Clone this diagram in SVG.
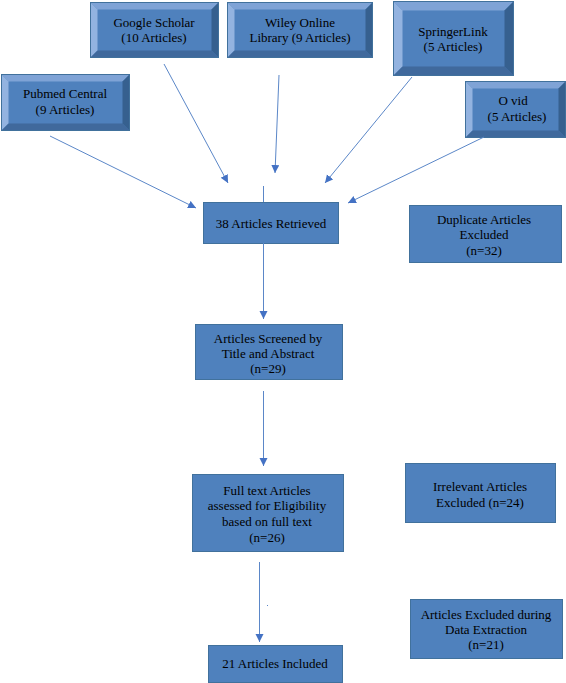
<svg xmlns="http://www.w3.org/2000/svg" width="566" height="683" viewBox="0 0 566 683">
<style>
.face{fill:#4F81BD;stroke:#41719C;stroke-width:1}
.bt{fill:#7FA3D6}.bl{fill:#93B3E0}.bb{fill:#40699C}.br{fill:#36608F}
.flat{fill:#4F81BD;stroke:#41719C;stroke-width:1}
.con line{stroke:#5B87C8;stroke-width:1;fill:none}
</style>
<defs>
<marker id="ah" markerUnits="userSpaceOnUse" markerWidth="10" markerHeight="10" refX="8" refY="4" orient="auto">
<path d="M0,0 L8,4 L0,8 Z" fill="#4472C4"/>
</marker>
</defs>
<rect width="566" height="683" fill="#fff"/>
<g font-family="Liberation Serif, Times New Roman, serif" font-size="13" text-anchor="middle" fill="#000">

<g id="google">
<rect class="face" x="90.5" y="2.5" width="128" height="55"/>
<polygon class="bt" points="90.5,2.5 218.5,2.5 211.5,9.5 97.5,9.5"/>
<polygon class="bl" points="90.5,2.5 97.5,9.5 97.5,50.5 90.5,57.5"/>
<polygon class="bb" points="90.5,57.5 97.5,50.5 211.5,50.5 218.5,57.5"/>
<polygon class="br" points="218.5,2.5 218.5,57.5 211.5,50.5 211.5,9.5"/>
<rect x="90.5" y="2.5" width="128" height="55" fill="none" stroke="#41719C"/>
<text x="154" y="27">Google Scholar</text>
<text x="154" y="42">(10 Articles)</text>
</g>

<g id="wiley">
<rect class="face" x="227.5" y="2.5" width="145" height="55"/>
<polygon class="bt" points="227.5,2.5 372.5,2.5 365.5,9.5 234.5,9.5"/>
<polygon class="bl" points="227.5,2.5 234.5,9.5 234.5,50.5 227.5,57.5"/>
<polygon class="bb" points="227.5,57.5 234.5,50.5 365.5,50.5 372.5,57.5"/>
<polygon class="br" points="372.5,2.5 372.5,57.5 365.5,50.5 365.5,9.5"/>
<rect x="227.5" y="2.5" width="145" height="55" fill="none" stroke="#41719C"/>
<text x="300" y="27">Wiley Online</text>
<text x="300" y="42">Library (9 Articles)</text>
</g>

<g id="pubmed">
<rect class="face" x="1.5" y="74.5" width="128" height="56"/>
<polygon class="bt" points="1.5,74.5 129.5,74.5 122.5,81.5 8.5,81.5"/>
<polygon class="bl" points="1.5,74.5 8.5,81.5 8.5,123.5 1.5,130.5"/>
<polygon class="bb" points="1.5,130.5 8.5,123.5 122.5,123.5 129.5,130.5"/>
<polygon class="br" points="129.5,74.5 129.5,130.5 122.5,123.5 122.5,81.5"/>
<rect x="1.5" y="74.5" width="128" height="56" fill="none" stroke="#41719C"/>
<text x="65" y="98">Pubmed Central</text>
<text x="65" y="114">(9 Articles)</text>
</g>

<g id="springer">
<rect class="face" x="393.5" y="1.5" width="120" height="74"/>
<polygon class="bt" points="393.5,1.5 513.5,1.5 504.5,10.5 402.5,10.5"/>
<polygon class="bl" points="393.5,1.5 402.5,10.5 402.5,66.5 393.5,75.5"/>
<polygon class="bb" points="393.5,75.5 402.5,66.5 504.5,66.5 513.5,75.5"/>
<polygon class="br" points="513.5,1.5 513.5,75.5 504.5,66.5 504.5,10.5"/>
<rect x="393.5" y="1.5" width="120" height="74" fill="none" stroke="#41719C"/>
<text x="453" y="36">SpringerLink</text>
<text x="453" y="51">(5 Articles)</text>
</g>

<g id="ovid">
<rect class="face" x="465.5" y="81.5" width="100" height="56"/>
<polygon class="bt" points="465.5,81.5 565.5,81.5 558.5,88.5 472.5,88.5"/>
<polygon class="bl" points="465.5,81.5 472.5,88.5 472.5,130.5 465.5,137.5"/>
<polygon class="bb" points="465.5,137.5 472.5,130.5 558.5,130.5 565.5,137.5"/>
<polygon class="br" points="565.5,81.5 565.5,137.5 558.5,130.5 558.5,88.5"/>
<rect x="465.5" y="81.5" width="100" height="56" fill="none" stroke="#41719C"/>
<text x="513" y="105">O vid</text>
<text x="517" y="121">(5 Articles)</text>
</g>

<g id="retrieved">
<rect class="flat" x="203.5" y="202.5" width="135" height="41"/>
<text x="271" y="228">38 Articles Retrieved</text>
</g>

<g id="duplicate">
<rect class="flat" x="409.5" y="205.5" width="152" height="57"/>
<text x="484" y="224">Duplicate Articles</text>
<text x="484" y="239">Excluded</text>
<text x="484" y="255">(n=32)</text>
</g>

<g id="screened">
<rect class="flat" x="195.5" y="324.5" width="147" height="55"/>
<text x="268" y="343">Articles Screened by</text>
<text x="268" y="358">Title and Abstract</text>
<text x="268" y="373">(n=29)</text>
</g>

<g id="fulltext">
<rect class="flat" x="192.5" y="474.5" width="151" height="77"/>
<text x="267" y="495">Full text Articles</text>
<text x="267" y="510">assessed for Eligibility</text>
<text x="267" y="526">based on full text</text>
<text x="267" y="542">(n=26)</text>
</g>

<g id="irrelevant">
<rect class="flat" x="405.5" y="463.5" width="150" height="59"/>
<text x="480" y="491">Irrelevant Articles</text>
<text x="480" y="507">Excluded (n=24)</text>
</g>

<g id="included">
<rect class="flat" x="208.5" y="645.5" width="134" height="37"/>
<text x="275" y="668">21 Articles Included</text>
</g>

<g id="extraction">
<rect class="flat" x="410.5" y="599.5" width="152" height="59"/>
<text x="486" y="619">Articles Excluded during</text>
<text x="486" y="634">Data Extraction</text>
<text x="486" y="649">(n=21)</text>
</g>
</g>

<g id="connectors" class="con">
<line x1="50" y1="136" x2="196" y2="208" marker-end="url(#ah)"/>
<line x1="164" y1="64" x2="228" y2="183" marker-end="url(#ah)"/>
<line x1="279" y1="75" x2="275" y2="173" marker-end="url(#ah)"/>
<line x1="412" y1="77" x2="325" y2="183" marker-end="url(#ah)"/>
<line x1="484" y1="137" x2="348" y2="203" marker-end="url(#ah)"/>
<line x1="263.5" y1="186" x2="263.5" y2="202"/>
<line x1="263.5" y1="243" x2="263.5" y2="319" marker-end="url(#ah)"/>
<line x1="263.5" y1="391" x2="263.5" y2="466" marker-end="url(#ah)"/>
<line x1="259.5" y1="562" x2="259.5" y2="642" marker-end="url(#ah)"/>
</g>
<rect x="267" y="605" width="1" height="1" fill="#5B87C8"/>
</svg>
